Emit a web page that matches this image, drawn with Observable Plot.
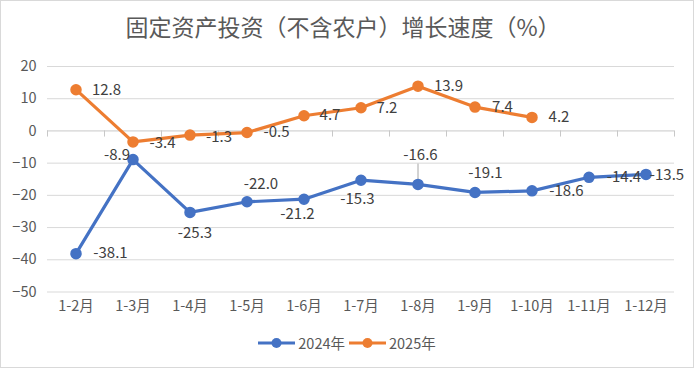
<!DOCTYPE html>
<html>
<head>
<meta charset="utf-8">
<script src="https://cdn.jsdelivr.net/npm/d3@7"></script>
<script src="https://cdn.jsdelivr.net/npm/@observablehq/plot@0.6"></script>
<style>
  html, body { margin: 0; padding: 0; background: #fff; }
  body { width: 694px; height: 368px; position: relative; overflow: hidden;
         font-family: "Noto Sans CJK SC", "Noto Sans", sans-serif; }
  #frame { position: absolute; left: 0; top: 0; width: 692px; height: 366px; border: 1px solid #d9d9d9; }
  #title { position: absolute; left: 0; top: 11px; width: 686px; text-align: center;
           font-size: 23px; line-height: 30px; color: #595959; }
  #chart { position: absolute; left: 0; top: 50px; }
  #legend { position: absolute; left: 0; top: 333px; width: 694px; display: flex; justify-content: center;
            align-items: center; font-size: 14.5px; color: #595959; line-height: 20px; }
  #legend .item { display: flex; align-items: center; margin: 0 2px; }
  #legend svg { margin-right: 3px; }
</style>
</head>
<body>
<div id="frame"></div>
<div id="title">固定资产投资（不含农户）增长速度（%）</div>
<div id="chart"></div>
<div id="legend"></div>
<script>
// ---- data ----
const categories = ["1-2月","1-3月","1-4月","1-5月","1-6月","1-7月","1-8月","1-9月","1-10月","1-11月","1-12月"];
const values2024 = [-38.1, -8.9, -25.3, -22.0, -21.2, -15.3, -16.6, -19.1, -18.6, -14.4, -13.5];
const values2025 = [12.8, -3.4, -1.3, -0.5, 4.7, 7.2, 13.9, 7.4, 4.2];
const seriesNames = ["2024年", "2025年"];
const yTicks = [20, 10, 0, -10, -20, -30, -40, -50];

// ---- styles ----
const colors = ["#4472C4", "#ED7D31"];
// label offsets (px) relative to each point, label centered
const offsets2024 = [[34.5,0],[-16,-4],[5,21],[14,-18],[-6.5,15],[-3.5,18.5],[2.5,-29],[10.5,-19],[34.5,0],[35,0],[21,1]];
const offsets2025 = [[30.5,0],[29.5,1],[29,2],[29.5,0],[26,-1],[26,0],[30.5,0],[27.5,0],[27,0]];

const s2024 = values2024.map((v, i) => ({i, v, off: offsets2024[i]}));
const s2025 = values2025.map((v, i) => ({i, v, off: offsets2025[i]}));
const fmt = v => v.toFixed(1);

const labelMarks = (data) => data.map(d => Plot.text([d], {
  x: "i", y: "v", text: x => fmt(x.v), dx: d.off[0], dy: d.off[1],
  fill: "#404040", fontSize: 15, textAnchor: "middle"
}));

const chart = Plot.plot({
  width: 694,
  height: 270,
  marginLeft: 47,
  marginRight: 20,
  marginTop: 16,
  marginBottom: 28.5,
  style: { fontFamily: '"Noto Sans CJK SC", "Noto Sans", sans-serif', background: "transparent", overflow: "visible" },
  x: { type: "linear", domain: [-0.5, categories.length - 0.5] },
  y: { domain: [-50, 20] },
  marks: [
    Plot.ruleY(yTicks.filter(t => t !== 0), { stroke: "#d9d9d9", strokeWidth: 1 }),
    Plot.ruleY([0], { stroke: "#c8c8c8", strokeWidth: 1 }),
    Plot.ruleX(d3.range(categories.length + 1).map(i => i - 0.5), { y1: 0, y2: -1.9, stroke: "#c8c8c8" }),
    Plot.axisY({ ticks: yTicks, tickSize: 0, tickPadding: 11, fontSize: 14.5, fill: "#595959", label: null }),
    Plot.axisX({ ticks: d3.range(categories.length), tickFormat: i => categories[i], tickSize: 0, tickPadding: 8.5, fontSize: 14.5, fill: "#595959", label: null }),
    // leader line for 1-8月 2024 label
    Plot.ruleX([s2024[6]], { x: "i", y1: "v", y2: d => d.v + 6.3, stroke: "#a6a6a6", strokeWidth: 1 }),
    Plot.line(s2024, { x: "i", y: "v", stroke: colors[0], strokeWidth: 3.2 }),
    Plot.dot(s2024, { x: "i", y: "v", r: 5, fill: colors[0], stroke: colors[0] }),
    Plot.line(s2025, { x: "i", y: "v", stroke: colors[1], strokeWidth: 3.2 }),
    Plot.dot(s2025, { x: "i", y: "v", r: 5, fill: colors[1], stroke: colors[1] }),
    ...labelMarks(s2024),
    ...labelMarks(s2025)
  ]
});
document.getElementById("chart").appendChild(chart);

// legend
const legend = document.getElementById("legend");
seriesNames.forEach((name, k) => {
  const item = document.createElement("div");
  item.className = "item";
  item.innerHTML = `<svg width="37" height="12"><line x1="0" y1="6" x2="37" y2="6" stroke="${colors[k]}" stroke-width="3.2"/><circle cx="18.5" cy="6" r="5" fill="${colors[k]}"/></svg><span>${name}</span>`;
  legend.appendChild(item);
});
</script>
</body>
</html>
